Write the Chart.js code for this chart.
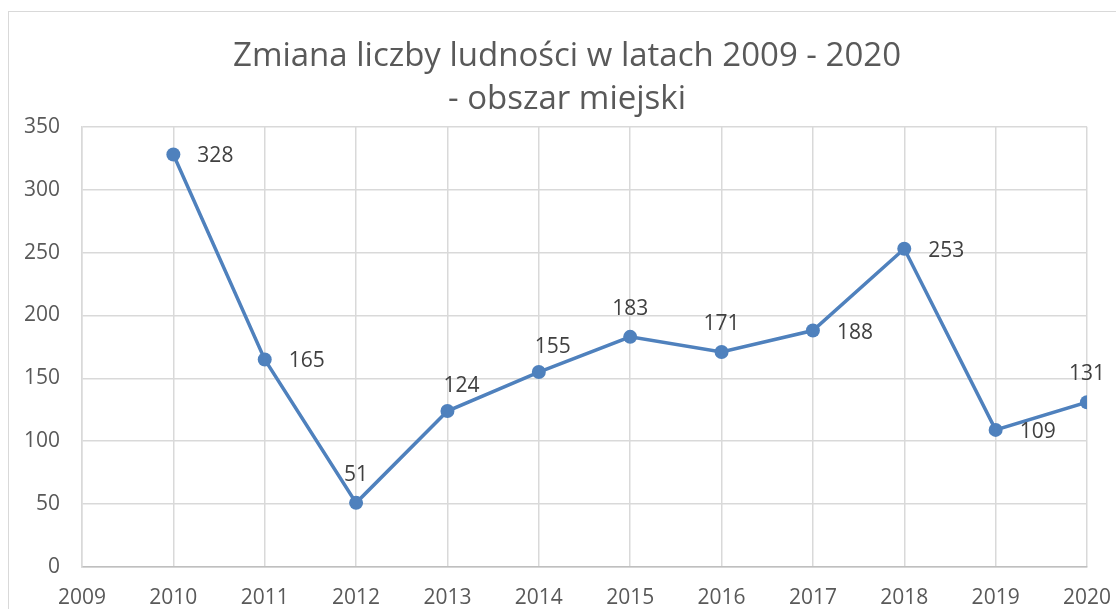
<!DOCTYPE html>
<html>
<head>
<meta charset="utf-8">
<script src="https://cdn.jsdelivr.net/npm/chart.js@4"></script>
<style>
    html, body { margin: 0; padding: 0; background: #fff; }
    #wrap { width: 1116px; height: 609px; }
</style>
</head>
<body>
<div id="wrap"><canvas id="chart" width="1116" height="609"></canvas></div>
<script>
const years = [2010, 2011, 2012, 2013, 2014, 2015, 2016, 2017, 2018, 2019, 2020];
const population = [328, 165, 51, 124, 155, 183, 171, 188, 253, 109, 131];
const labelSides = ['right', 'right', 'above', 'aboveRight', 'aboveRight', 'above', 'above', 'right', 'right', 'right', 'above'];
const titleLines = ['Zmiana liczby ludności w latach 2009 - 2020', '- obszar miejski'];

const blue = '#4f81bd';
const gray = '#595959';
const font = "'Open Sans', 'Noto Sans', sans-serif";

// outer chart border like in Excel
const borderPlugin = {
    id: 'outerBorder',
    beforeDraw(chart) {
        const ctx = chart.ctx;
        ctx.save();
        ctx.strokeStyle = '#d9d9d9';
        ctx.lineWidth = 1;
        ctx.strokeRect(8.5, 11.5, 1300, 800);
        ctx.restore();
    }
};

// value labels next to points
const valueLabels = {
    id: 'valueLabels',
    afterDatasetsDraw(chart) {
        const ctx = chart.ctx;
        const meta = chart.getDatasetMeta(0);
        ctx.save();
        ctx.font = '21px ' + font;
        ctx.fillStyle = '#404040';
        ctx.textBaseline = 'middle';
        meta.data.forEach((pt, i) => {
            const side = labelSides[i];
            let x = pt.x, y = pt.y;
            if (side === 'right') {
                ctx.textAlign = 'left';
                x += 24; y += 2;
            } else if (side === 'above') {
                ctx.textAlign = 'center';
                y -= 28;
            } else {
                ctx.textAlign = 'center';
                x += 14; y -= 25;
            }
            ctx.fillText(String(population[i]), x, y);
        });
        ctx.restore();
    }
};

new Chart(document.getElementById('chart'), {
    type: 'line',
    data: {
        datasets: [{
            data: years.map((y, i) => ({ x: y, y: population[i] })),
            borderColor: blue,
            backgroundColor: blue,
            borderWidth: 3.5,
            pointRadius: 7,
            pointBorderWidth: 0,
            pointBackgroundColor: blue,
            tension: 0
        }]
    },
    options: {
        responsive: false,
        animation: false,
        layout: { padding: { left: 18, right: 0, top: 0, bottom: 0 } },
        plugins: {
            legend: { display: false },
            tooltip: { enabled: false },
            title: {
                display: true,
                text: titleLines,
                color: gray,
                font: { family: font, size: 33, weight: 'normal', lineHeight: 1.3 },
                padding: { top: 35, bottom: 6 }
            }
        },
        scales: {
            x: {
                type: 'linear',
                min: 2009,
                max: 2020,
                afterFit(scale) {
                    scale.height = 42;
                    scale.paddingLeft = 0;
                    scale.paddingRight = 29;
                },
                ticks: {
                    stepSize: 1,
                    padding: 18,
                    color: gray,
                    font: { family: font, size: 21 },
                    callback: v => String(v)
                },
                grid: { color: '#d9d9d9', lineWidth: 1.5, drawTicks: false },
                border: { color: '#bfbfbf', width: 1.5 }
            },
            y: {
                min: 0,
                max: 350,
                afterFit(scale) { scale.width = 64; },
                ticks: {
                    stepSize: 50,
                    padding: 22,
                    color: gray,
                    font: { family: font, size: 21 }
                },
                grid: { color: '#d9d9d9', lineWidth: 1.5, drawTicks: false },
                border: { color: '#d9d9d9', width: 1.5 }
            }
        }
    },
    plugins: [borderPlugin, valueLabels]
});
</script>
</body>
</html>
